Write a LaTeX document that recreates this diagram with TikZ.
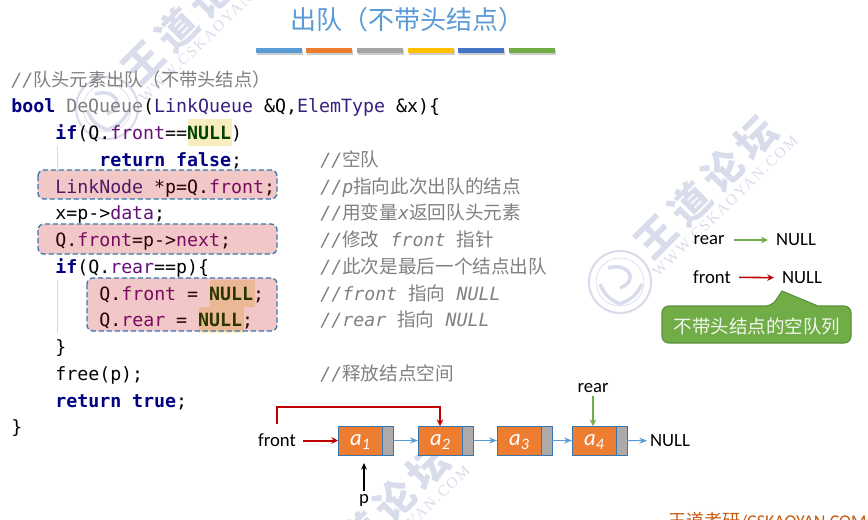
\documentclass[tikz,border=0pt]{standalone}
\usepackage{fontspec}
\usepackage{xcolor}
\usetikzlibrary{arrows.meta,positioning}
\setmainfont{Carlito}
\setmonofont{DejaVu Sans Mono}
\newfontfamily\cjk{Noto Sans CJK SC}
\newfontfamily\notecjk[Scale=1.02]{Noto Sans CJK SC}
\newfontfamily\markcjk[LetterSpace=17]{Noto Sans CJK SC}
\newfontfamily\markserif[LetterSpace=12]{Liberation Serif}

\definecolor{titleblue}{HTML}{5B9BD5}
\definecolor{markgray}{HTML}{D9DCEB}
\definecolor{kwblue}{HTML}{000080}
\definecolor{typeblue}{HTML}{371F80}
\definecolor{fieldpurple}{HTML}{660E7A}
\definecolor{nullgreen}{HTML}{004400}
\definecolor{hlyellow}{HTML}{F7EDBF}
\definecolor{boxred}{HTML}{C00000}
\definecolor{boxblue}{HTML}{3A76AE}
\definecolor{cellorange}{HTML}{ED7D31}
\definecolor{cellgray}{HTML}{AEAAAA}
\definecolor{arrowred}{HTML}{C00000}
\definecolor{arrowgreen}{HTML}{70AD47}
\definecolor{calloutedge}{HTML}{5B8F3A}
\definecolor{footorange}{HTML}{C55A11}
\definecolor{bargray}{HTML}{A5A5A5}
\definecolor{bargold}{HTML}{FFC000}
\definecolor{barblue}{HTML}{4472C4}

\newcommand{\kw}[1]{{\color{kwblue}\bfseries #1}}
\newcommand{\ty}[1]{{\color{typeblue}#1}}
\newcommand{\fd}[1]{{\color{fieldpurple}#1}}
\newcommand{\nul}{{\color{nullgreen}\bfseries NULL}}
\newcommand{\cm}[1]{{\notecjk #1}}
\newcommand{\cellname}[2]{#1\smash{\raisebox{-3pt}{\fontsize{12}{12}\selectfont #2}}}

% one forum watermark, placed by its shift
\newcommand{\wangmark}[3]{
	\begin{scope}[shift={(#2,#3)}]
		\node[markword] (#1word) at (706,187) {王道论坛};
		\node[markweb] (#1web) at (725,206) {WWW.CSKAOYAN.COM};
		\draw[markgray,line width=1.6pt] (620,282) circle (31);
		\draw[markgray,line width=0.5pt] (620,282) circle (24);
		\draw[markgray,line width=2.6pt] (608,268) .. controls (628,262) and (640,280) .. (620,288);
		\draw[markgray,line width=2.6pt] (600,284) .. controls (606,298) and (612,300) .. (620,304) .. controls (630,300) and (636,296) .. (642,284);
	\end{scope}
}

\tikzset{
	markword/.style={text=markgray,font=\markcjk\bfseries\fontsize{30}{30}\selectfont,rotate=45,inner sep=0pt},
	markweb/.style={text=markgray,font=\markserif\fontsize{11.5}{12}\selectfont,rotate=44,inner sep=0pt},
	codeline/.style={anchor=base west,inner sep=0pt,font=\ttfamily\fontsize{13.7}{16}\selectfont},
	noteline/.style={codeline,text=gray,font=\ttfamily\itshape\fontsize{13.7}{16}\selectfont},
	redobox/.style={draw=boxblue,dash pattern=on 4pt off 2pt,line width=1pt,fill=boxred,fill opacity=0.22,rounded corners=4.5pt},
	plainlabel/.style={inner sep=2pt,font=\fontsize{14}{16}\selectfont},
	datacell/.style={draw=boxblue,fill=cellorange,text=white,minimum width=33pt,minimum height=21.75pt,inner sep=0pt,outer sep=0pt,line width=0.7pt,font=\itshape\fontsize{17}{17}\selectfont},
	linkcell/.style={draw=boxblue,fill=cellgray,minimum width=8.25pt,minimum height=21.75pt,inner sep=0pt,outer sep=0pt,line width=0.7pt},
	nextarrow/.style={-{Stealth[length=6pt,width=4.5pt]},titleblue,line width=0.8pt},
	frontarrow/.style={-{Stealth[length=5pt,width=5pt]},arrowred,line width=1.5pt},
	reararrow/.style={-{Stealth[length=5pt,width=5pt]},arrowgreen,line width=1.5pt},
}

\begin{document}
\begin{tikzpicture}[x=0.75pt,y=-0.75pt]
	\useasboundingbox (0,0) rectangle (868,519);
	\clip (0,0) rectangle (868,519);

	\wangmark{marka}{-513}{-174}
	\wangmark{markb}{0}{0}
	\wangmark{markc}{-328}{330}

	\node[text=titleblue,font=\cjk\fontsize{19.5}{20}\selectfont,inner sep=0pt] (title) at (407,20) {出队（不带头结点）};

	\fill[black,opacity=0.2] (257,50) rectangle (303,55);
	\fill[black,opacity=0.2] (307,50) rectangle (353,55);
	\fill[black,opacity=0.2] (358,50) rectangle (404,55);
	\fill[black,opacity=0.2] (409,50) rectangle (455,55);
	\fill[black,opacity=0.2] (459,50) rectangle (505,55);
	\fill[black,opacity=0.2] (510,50) rectangle (556,55);
	\fill[titleblue] (256,48) rectangle (302,53);
	\fill[cellorange] (306,48) rectangle (352,53);
	\fill[bargray] (357,48) rectangle (403,53);
	\fill[bargold] (408,48) rectangle (454,53);
	\fill[barblue] (458,48) rectangle (504,53);
	\fill[arrowgreen] (509,48) rectangle (555,53);

	% yellow marks behind NULL
	\fill[hlyellow] (188,119) rectangle (232,146);
	\fill[hlyellow] (210,280) rectangle (255,307);
	\fill[hlyellow] (199,307) rectangle (244,333);

	% indent guides
	\draw[black!15,line width=0.5pt] (57,146) -- (57,172);
	\draw[black!15,line width=0.5pt] (57,280) -- (57,333);

	% code
	\node[noteline] (head) at (11,86) {//{\cjk 队头元素出队（不带头结点）}};
	\node[codeline] (l1) at (11,112) {\kw{bool} {\color{gray}DeQueue}(\ty{LinkQueue} \&Q,\ty{ElemType} \&x)\{};
	\node[codeline] (l2) at (55,139) {\kw{if}(Q.\fd{front}==\nul)};
	\node[codeline] (l3) at (99,166) {\kw{return false};};
	\node[codeline] (l4) at (55,193) {\ty{LinkNode} *p=Q.\fd{front};};
	\node[codeline] (l5) at (55,219) {x=p->\fd{data};};
	\node[codeline] (l6) at (55,246) {Q.\fd{front}=p->\fd{next};};
	\node[codeline] (l7) at (55,273) {\kw{if}(Q.\fd{rear}==p)\{};
	\node[codeline] (l8) at (99,300) {Q.\fd{front} = \nul;};
	\node[codeline] (l9) at (99,326) {Q.\fd{rear} = \nul;};
	\node[codeline] (l10) at (55,353) {\}};
	\node[codeline] (l11) at (55,380) {free(p);};
	\node[codeline] (l12) at (55,407) {\kw{return true};};
	\node[codeline] (l13) at (11,433) {\}};

	% comments
	\node[noteline] (n3) at (320,166) {//\cm{空队}};
	\node[noteline] (n4) at (320,193) {//p\cm{指向此次出队的结点}};
	\node[noteline] (n5) at (320,219) {//\cm{用变量}x\cm{返回队头元素}};
	\node[noteline] (n6) at (320,246) {//\cm{修改} front \cm{指针}};
	\node[noteline] (n7) at (320,273) {//\cm{此次是最后一个结点出队}};
	\node[noteline] (n8) at (320,300) {//front \cm{指向} NULL};
	\node[noteline] (n9) at (320,326) {//rear \cm{指向} NULL};
	\node[noteline] (n11) at (320,380) {//\cm{释放结点空间}};

	% red boxes over the code
	\draw[redobox] (38,170) rectangle (277,199);
	\draw[redobox] (38,224) rectangle (277,254);
	\draw[redobox] (87,278) rectangle (277,331);

	% list
	\node[datacell] (a1) at (360,440.5) {\cellname{a}{1}};
	\node[linkcell,right=0pt of a1] (p1) {};
	\node[datacell,right=18.75pt of p1] (a2) {\cellname{a}{2}};
	\node[linkcell,right=0pt of a2] (p2) {};
	\node[datacell,right=18pt of p2] (a3) {\cellname{a}{3}};
	\node[linkcell,right=0pt of a3] (p3) {};
	\node[datacell,right=15pt of p3] (a4) {\cellname{a}{4}};
	\node[linkcell,right=0pt of a4] (p4) {};
	\node[plainlabel] (endnull) at (670,441) {NULL};

	\draw[nextarrow] (p1) -- (a2);
	\draw[nextarrow] (p2) -- (a3);
	\draw[nextarrow] (p3) -- (a4);
	\draw[nextarrow] (p4) -- (endnull);

	\node[plainlabel] (listfront) at (277,440.5) {front};
	\node[plainlabel] (listrear) at (593,388) {rear};
	\node[plainlabel] (listp) at (364,500) {p};
	\coordinate (turn) at (277,407);

	\draw[frontarrow,shorten <=3pt] (listfront.east) -- (a1.west);
	\draw[frontarrow,shorten <=5pt] (listfront.north) -- (turn) -| (a2.north);
	\draw[reararrow] (listrear) -- (listrear |- a4.north);
	\draw[-{Stealth[length=5pt,width=4.5pt]},black,line width=0.8pt,shorten >=6pt] (listp) -- (listp |- a1.south);

	% empty queue
	\node[plainlabel] (emptyrear) at (709,240) {rear};
	\node[plainlabel] (emptyrearnull) at (796,240) {NULL};
	\node[plainlabel] (emptyfront) at (712,277) {front};
	\node[plainlabel] (emptyfrontnull) at (802,278) {NULL};
	\draw[reararrow,line width=1.2pt,shorten <=5pt,shorten >=4pt] (emptyrear) -- (emptyrearnull);
	\draw[frontarrow,line width=1.2pt,shorten <=4pt,shorten >=4pt] (emptyfront) -- (emptyfrontnull);

	\draw[calloutedge,fill=arrowgreen,line width=0.8pt,rounded corners=5pt] (662,343) -- (662,306) -- (772,306) [sharp corners] -- (782,291) -- (818,306) [rounded corners=5pt] -- (851,306) -- (851,343) -- cycle;
	\node[text=white!90!arrowgreen,font=\cjk\fontsize{13.9}{16}\selectfont,inner sep=0pt] (emptynote) at (757,326) {不带头结点的空队列};

	\node[text=footorange,anchor=base west,inner sep=0pt,font=\fontsize{13.5}{14}\selectfont] (foot) at (668,527) {{\cjk 王道考研}/CSKAOYAN.COM};
\end{tikzpicture}
\end{document}
